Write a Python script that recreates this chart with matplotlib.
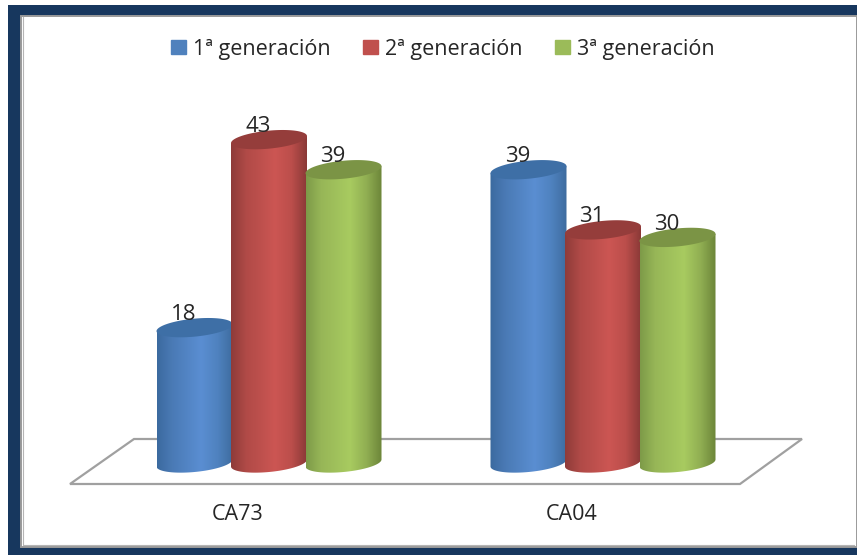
import matplotlib
matplotlib.use("Agg")
import matplotlib.pyplot as plt
import numpy as np
from matplotlib.colors import LinearSegmentedColormap
from matplotlib.patches import Patch, Polygon, PathPatch, Rectangle
from matplotlib.path import Path

categorias = ["CA73", "CA04"]
series = ["1ª generación", "2ª generación", "3ª generación"]
gen1 = [18, 39]
gen2 = [43, 31]
gen3 = [39, 30]

W, H = 857, 555
PX_X = 334.0   # pixeles entre las dos categorias
PX_Y = 7.52    # pixeles por unidad
X0, Y0 = 269.0, 463.0  # donde cae (0, 0)


def dx(p):
    return p / PX_X


def dy(p):
    return p / PX_Y


def px(x, y):
    # de pixeles de la imagen a coordenadas de datos
    return (x - X0) / PX_X, (Y0 - y) / PX_Y


fig = plt.figure(figsize=(W / 100, H / 100), dpi=100, facecolor="white")
ax = fig.add_axes([0, 0, 1, 1])
ax.axis("off")
plt.rcParams["font.family"] = ["Open Sans", "DejaVu Sans"]

# marco azul
ax.add_patch(Rectangle(px(8, 555), dx(849), dy(550), fc="#17375e", ec="none", zorder=0))
ax.add_patch(Rectangle(px(21, 546.5), dx(836), dy(530.5), fc="white", ec="#9a9a9a", lw=1.4, zorder=0.5))
ax.plot(*zip(px(23, 17), px(23, 544.5), px(854, 544.5)), color="#b5b5b5", lw=0.8, zorder=0.6)

# suelo
suelo = [px(70, 484), px(134, 439), px(802, 439), px(740, 484)]
ax.add_patch(Polygon(suelo, closed=True, fc="white", ec="#a0a0a0", lw=1.6, zorder=1))

estilos = [
    ("#4f81bd", ["#3b6a9f", "#4a7ab5", "#5a8ed2", "#4f82bf", "#3e6c9f"], "#3e6fa6"),
    ("#c0504d", ["#8e3b39", "#b04a47", "#cc5653", "#bb4e4b", "#8a3937"], "#953d3b"),
    ("#9bbb59", ["#7d9a48", "#97b657", "#a8cb60", "#90ae52", "#6c8539"], "#7b9445"),
]

A = 38.0  # semiancho en px
B = 9.0   # semialto de la elipse en px
S = 3.5   # inclinacion de la elipse en px
t = np.linspace(0, 2 * np.pi, 121)


def elipse(xc, yc):
    return xc + dx(A) * np.cos(t), yc + dy(B) * np.sin(t) + dy(S) * np.cos(t)


def cilindro(xc, valor, colores, tapa, z):
    ex, ey = elipse(xc, 0)
    # cuerpo: mitad de abajo de la base y cuerda hasta el centro de la tapa
    abajo = (t >= np.pi) & (t <= 2 * np.pi)
    xs = np.r_[ex[abajo], ex[abajo][-1], ex[abajo][0]]
    ys = np.r_[ey[abajo], ey[abajo][-1] + valor, ey[abajo][0] + valor]
    cuerpo = Path(np.c_[xs, ys])
    cmap = LinearSegmentedColormap.from_list("c", list(zip([0, 0.2, 0.58, 0.8, 1], colores)))
    grad = np.linspace(0, 1, 256).reshape(1, -1)
    im = ax.imshow(grad, cmap=cmap, aspect="auto", zorder=z, interpolation="bilinear",
                   extent=(xc - dx(A), xc + dx(A), -dy(B + S), valor + dy(B)))
    im.set_clip_path(PathPatch(cuerpo, transform=ax.transData))
    tx, ty = elipse(xc, valor)
    ax.add_patch(Polygon(np.c_[tx, ty], closed=True, fc=tapa, ec="none", zorder=z + 0.01))
    ax.text(xc - dx(11), valor + dy(13), str(valor), ha="center", va="center",
            fontsize=16, color="#262626", zorder=20)


ancho = 74.5 / PX_X
valores = [gen1, gen2, gen3]
for i, cat in enumerate(categorias):
    for j, vals in enumerate(valores):
        xc = i + (j - 1) * ancho
        cilindro(xc, vals[i], estilos[j][1], estilos[j][2], 2 + i + j * 0.1)
    ax.text(i - dx(31), px(0, 514)[1], cat, ha="center", va="center", fontsize=15.5, color="#262626")

ax.set_xlim(px(0, 0)[0], px(W, 0)[0])
ax.set_ylim(px(0, H)[1], px(0, 0)[1])

handles = [Patch(color=e[0]) for e in estilos]
ax.legend(handles, series, ncol=3, frameon=False, loc="center", bbox_to_anchor=(443 / W, 1 - 49 / H),
          fontsize=15.5, handlelength=0.7, handleheight=0.62, handletextpad=0.33, columnspacing=1.5,
          labelcolor="#262626", bbox_transform=fig.transFigure)

fig.savefig("out.png", dpi=100)
